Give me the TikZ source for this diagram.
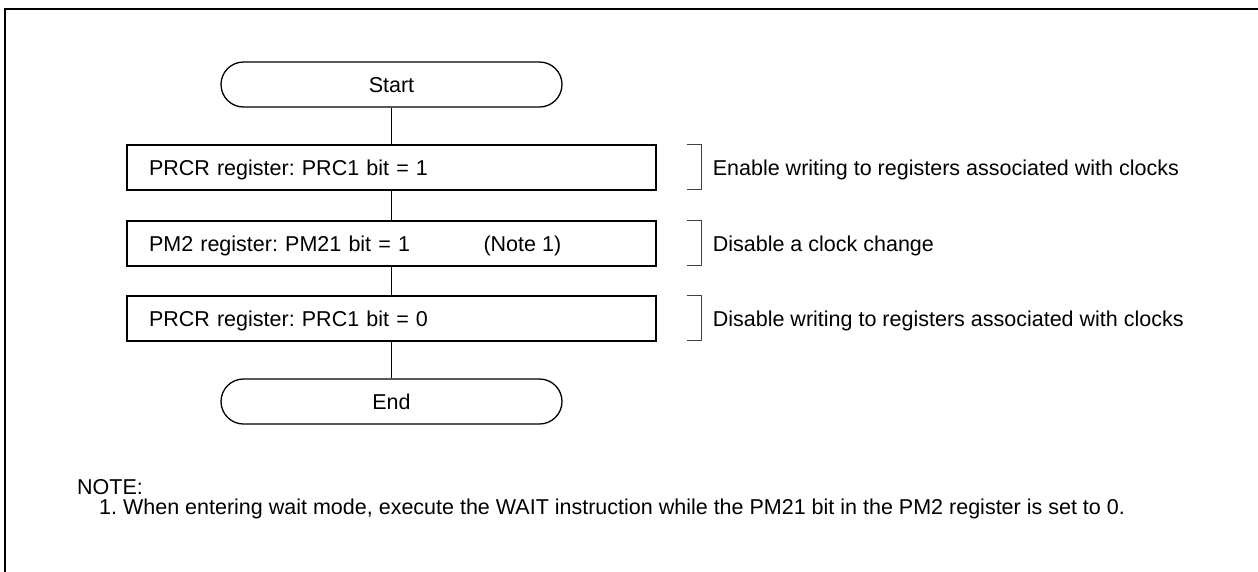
\documentclass[tikz,border=0pt]{standalone}
\usepackage{fontspec}
\setmainfont{Liberation Sans}
\usetikzlibrary{positioning}
\frenchspacing

\begin{document}
\begin{tikzpicture}[
    x=1pt, y=-1pt,
    every node/.style={font=\fontsize{21.5}{25}\selectfont},
    term/.style={draw, line width=1.3pt, rounded corners=22.5pt,
                 minimum width=341pt, minimum height=45pt, inner sep=0pt,
                 text height=15pt, text depth=0pt},
    stepbox/.style={draw, line width=1.3pt, minimum height=45pt,
                    text width=485pt, align=left, inner xsep=22pt, inner ysep=0pt,
                    text height=15pt, text depth=0pt},
    bracket/.style={line width=0.9pt, black!75},
    link/.style={line width=1.3pt}
]
\useasboundingbox (0,0) rectangle (1258,571);
% cornice (tagliata a destra e in basso)
\draw[line width=1.5pt] (5,600) -- (5,9) -- (1300,9);

\node[term] (start) at (391.5,84.5) {Start};
\foreach \i/\y/\txt/\cmt in {
    1/167.5/{PRCR register: PRC1 bit = 1}/{Enable writing to registers associated with clocks},
    2/243.5/{PM2 register: PM21 bit = 1}/{Disable a clock change},
    3/318.5/{PRCR register: PRC1 bit = 0}/{Disable writing to registers associated with clocks}}{
    \node[stepbox] (S\i) at (391.5,\y) {\txt};
    \draw[bracket] ([xshift=30pt]S\i.north east) -- ++(15,0) -- ++(0,45) -- ++(-15,0);
    \node[anchor=base west, inner sep=0pt] (C\i) at ([xshift=56pt, yshift=-7.5pt]S\i.east) {\cmt};
}
\node[term] (stop) at (391.5,401.5) {End};
\node[anchor=base west, inner sep=0pt] (ref1) at ([xshift=357pt, yshift=-7.5pt]S2.west) {(Note 1)};

\draw[link] (start) -- (S1);
\draw[link] (S1) -- (S2);
\draw[link] (S2) -- (S3);
\draw[link] (S3) -- (stop);

% nota in basso
\node[anchor=base west, inner sep=0pt] (notehead) at (77,494) {NOTE:};
\node[anchor=base west, inner sep=0pt] (note1) at (99,514)
    {1. When entering wait mode, execute the WAIT instruction while the PM21 bit in the PM2 register is set to 0.};
\end{tikzpicture}
\end{document}
